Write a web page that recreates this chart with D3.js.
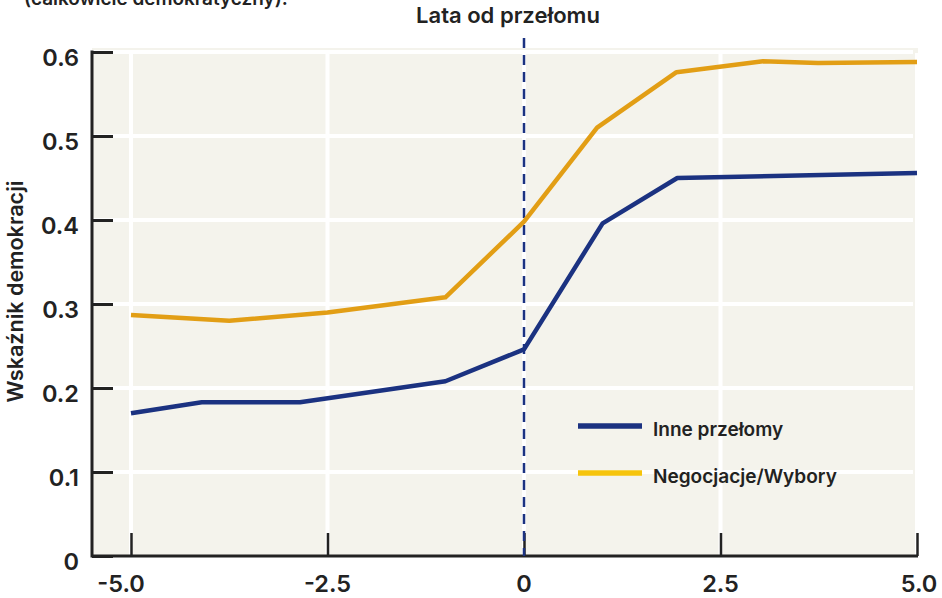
<!DOCTYPE html>
<html><head><meta charset="utf-8">
<script src="https://cdn.jsdelivr.net/npm/d3@7"></script>
<style>
body{margin:0;background:#fff;}
text{font-family:"Inter",sans-serif;font-weight:600;fill:#222;}
</style></head>
<body><svg id="c" width="942" height="598"></svg>
<script>
const xTicks=[-5,-2.5,0,2.5,5];
const xTickLabels=["-5.0","-2.5","0","2.5","5.0"];
const yTicks=[0,0.1,0.2,0.3,0.4,0.5,0.6];
const yTickLabels=["0","0.1","0.2","0.3","0.4","0.5","0.6"];
const inneX=[-5,-4.1,-2.85,-1,0,1,1.95,5];
const inneY=[0.170,0.183,0.183,0.208,0.246,0.396,0.450,0.456];
const negX=[-5,-3.75,-2.5,-1,0,0.93,1.94,3.04,3.74,5];
const negY=[0.287,0.280,0.290,0.308,0.398,0.510,0.576,0.589,0.587,0.588];
const seriesNames=["Inne przełomy","Negocjacje/Wybory"];
const title="Lata od przełomu";
const yTitle="Wskaźnik demokracji";
const note="(całkowicie demokratyczny).";

const svg=d3.select("#c");
const x=d3.scaleLinear().domain([-5,5]).range([131,917]);
const y=d3.scaleLinear().domain([0,0.6]).range([556,52]);
const L=92,R=918,T=48,B=556;

function fit(sel,target){
  const w=sel.node().getComputedTextLength();
  const fs=parseFloat(sel.attr("font-size"));
  const nf=fs*target/w;
  sel.attr("font-size",nf);
  return nf;
}

svg.append("rect").attr("x",L).attr("y",T).attr("width",R-L).attr("height",B-T).attr("fill","#f4f3ec");
// gridlines
svg.append("g").selectAll("line").data(yTicks.filter(d=>d>0)).join("line")
 .attr("x1",L).attr("x2",R-5).attr("y1",d=>y(d)).attr("y2",d=>y(d)).attr("stroke","#fff").attr("stroke-width",4);
svg.append("g").selectAll("line").data(xTicks).join("line")
 .attr("x1",d=>x(d)).attr("x2",d=>x(d)).attr("y1",T+5).attr("y2",B).attr("stroke","#fff").attr("stroke-width",4);

// axes
const yAxis=d3.axisRight(y).tickValues(yTicks).tickSize(21).tickFormat("");
const gy=svg.append("g").attr("transform",`translate(${L},0)`).call(yAxis);
gy.selectAll("line").attr("stroke","#222").attr("stroke-width",3);
gy.select(".domain").remove();
const xAxis=d3.axisTop(x).tickValues(xTicks).tickSize(23).tickFormat("");
const gx=svg.append("g").attr("transform",`translate(0,${B})`).call(xAxis);
gx.selectAll("line").attr("stroke","#222").attr("stroke-width",2.5);
gx.select(".domain").remove();
svg.append("line").attr("x1",L).attr("x2",L).attr("y1",y(0.6)-1.5).attr("y2",B+1.5).attr("stroke","#222").attr("stroke-width",3);
svg.append("line").attr("x1",L).attr("x2",R).attr("y1",B).attr("y2",B).attr("stroke","#222").attr("stroke-width",3);

// tick labels
svg.append("g").selectAll("text").data(yTicks).join("text")
 .attr("x",79).attr("y",d=>y(d)+14).attr("text-anchor","end").attr("font-size",23.5)
 .text((d,i)=>yTickLabels[i]);
svg.append("g").selectAll("text").data(xTicks).join("text")
 .attr("x",d=>x(d)).attr("dx",(d,i)=>i===0?-10:(i===4?2:0)).attr("y",592).attr("text-anchor","middle").attr("font-size",23.5)
 .text((d,i)=>xTickLabels[i]);

// dashed zero line
svg.append("line").attr("x1",x(0)).attr("x2",x(0)).attr("y1",38).attr("y2",B).attr("stroke","#1b3281").attr("stroke-width",2.5).attr("stroke-dasharray","10,7");

const line=d3.line().x(d=>x(d[0])).y(d=>y(d[1]));
svg.append("path").datum(negX.map((v,i)=>[v,negY[i]])).attr("d",line).attr("fill","none").attr("stroke","#e29e15").attr("stroke-width",4.5).attr("stroke-linejoin","round");
svg.append("path").datum(inneX.map((v,i)=>[v,inneY[i]])).attr("d",line).attr("fill","none").attr("stroke","#1b3281").attr("stroke-width",4.5).attr("stroke-linejoin","round");

// legend
const legColors=["#1b3281","#f6c40c"];
const lg=svg.append("g");
const legTexts=[];
seriesNames.forEach((n,i)=>{
  const yy=426+i*47;
  lg.append("line").attr("x1",578).attr("x2",642).attr("y1",yy).attr("y2",yy).attr("stroke",legColors[i]).attr("stroke-width",5.5);
  legTexts.push(lg.append("text").attr("x",653).attr("y",yy+10).attr("font-size",19).attr("fill","#333").text(n));
});
const lfs=fit(legTexts[1],184);
legTexts[0].attr("font-size",lfs);

// titles
fit(svg.append("text").attr("x",508).attr("y",23).attr("text-anchor","middle").attr("font-size",19).text(title),184);
fit(svg.append("text").attr("transform","translate(23,291.5) rotate(-90)").attr("text-anchor","middle").attr("font-size",19).text(yTitle),222);
fit(svg.append("text").attr("x",24).attr("y",5).attr("font-size",19).text(note),264);
</script></body></html>
